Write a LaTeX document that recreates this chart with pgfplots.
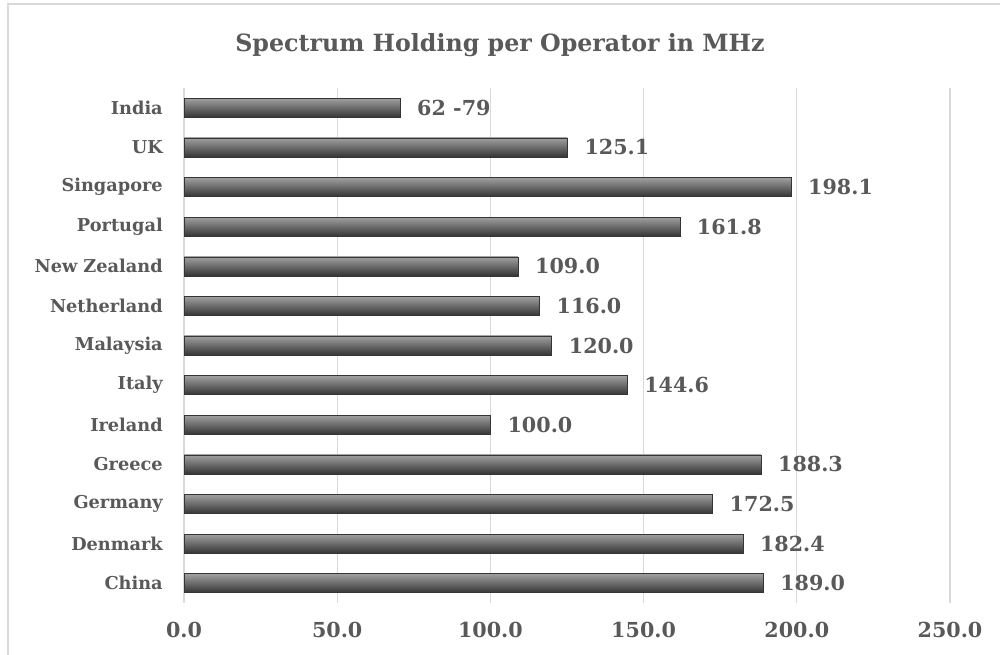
\documentclass[border=0pt]{standalone}
\usepackage{pgfplots}
\pgfplotsset{compat=1.18}
\usepackage{fontspec}
\setmainfont{DejaVu Serif}
\definecolor{txt}{HTML}{595959}
\definecolor{gridc}{HTML}{D9D9D9}
\definecolor{bartop}{HTML}{A0A0A0}
\definecolor{barmid}{HTML}{5A5A5A}
\definecolor{barbot}{HTML}{353535}
\pgfplotsset{mybar/.style={draw=barbot, line width=0.3pt, top color=bartop, middle color=barmid, bottom color=barbot, bar shift=0pt}}
\begin{document}
\begin{tikzpicture}
\useasboundingbox (0,0) rectangle (750pt,491.25pt);
\fill[white] (0,0) rectangle (750pt,491.25pt);
\draw[gridc, line width=1.1pt] (6pt,-10pt) -- (6pt,488.25pt) -- (760pt,488.25pt);
\node[font=\bfseries\fontsize{17.8}{20}\selectfont, text=txt] at (375pt,457.5pt) {Spectrum Holding per Operator in MHz};
\begin{axis}[
  at={(138pt,39pt)}, anchor=south west,
  scale only axis, width=574.5pt, height=386.25pt,
  xbar, bar width=14.25pt,
  xmin=0, xmax=250, ymin=-0.5, ymax=12.5,
  xtick={0,50,...,250},
  ytick={0,...,12},
  yticklabels={China,Denmark,Germany,Greece,Ireland,Italy,Malaysia,Netherland,New Zealand,Portugal,Singapore,UK,India},
  xmajorgrids, grid style={gridc, line width=0.8pt},
  axis line style={draw=none},
  major tick length=0pt,
  tick label style={text=txt},
  xticklabel style={/pgf/number format/.cd, fixed, fixed zerofill, precision=1, assume math mode=true, /tikz/.cd, font=\bfseries\fontsize{15.5}{17}\selectfont, anchor=center, inner sep=0pt, yshift=-19.9pt},
  yticklabel style={font=\bfseries\fontsize{13.3}{15}\selectfont, anchor=east, inner sep=0pt, xshift=-15.75pt},
  nodes near coords, point meta=explicit symbolic,
  nodes near coords style={font=\bfseries\fontsize{15.5}{17}\selectfont, text=txt, anchor=west, inner sep=0pt, xshift=12.75pt},
  clip=false,
]
\addplot[mybar] coordinates {(189.0,0) [189.0]};
\addplot[mybar] coordinates {(182.4,1) [182.4]};
\addplot[mybar] coordinates {(172.5,2) [172.5]};
\addplot[mybar] coordinates {(188.3,3) [188.3]};
\addplot[mybar] coordinates {(100.0,4) [100.0]};
\addplot[mybar] coordinates {(144.6,5) [144.6]};
\addplot[mybar] coordinates {(120.0,6) [120.0]};
\addplot[mybar] coordinates {(116.0,7) [116.0]};
\addplot[mybar] coordinates {(109.0,8) [109.0]};
\addplot[mybar] coordinates {(161.8,9) [161.8]};
\addplot[mybar] coordinates {(198.1,10) [198.1]};
\addplot[mybar] coordinates {(125.1,11) [125.1]};
\addplot[mybar] coordinates {(70.5,12) [62 -79]};
\end{axis}
\end{tikzpicture}
\end{document}
